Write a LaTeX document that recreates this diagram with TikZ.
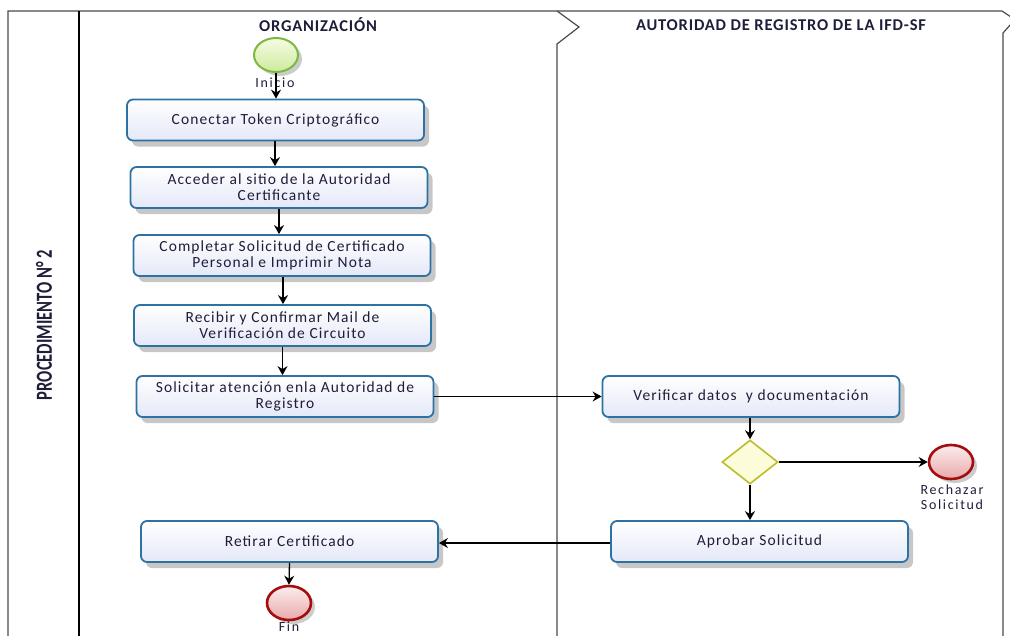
\documentclass[tikz,border=0pt]{standalone}
\usepackage{fontspec}
\usepackage{graphicx}
\setmainfont{Carlito}
\newfontfamily\wideface[LetterSpace=7]{Carlito}
\newfontfamily\labelface[LetterSpace=12]{Carlito}
\newfontfamily\headface[LetterSpace=5]{Carlito}
\usetikzlibrary{arrows.meta,shapes.geometric,shadows}

\definecolor{taskline}{HTML}{2E72A3}
\definecolor{taskbot}{HTML}{E4E8F8}
\definecolor{tasktxt}{HTML}{221C3A}
\definecolor{frameclr}{HTML}{4A4A4A}
\definecolor{startline}{HTML}{7DB83F}
\definecolor{starttop}{HTML}{F6FCE4}
\definecolor{startbot}{HTML}{CDEA9C}
\definecolor{endline}{HTML}{A30D0D}
\definecolor{endtop}{HTML}{FBEDED}
\definecolor{endbot}{HTML}{E9A9AB}
\definecolor{gateline}{HTML}{BDBD2A}
\definecolor{gatefill}{HTML}{FCFCDA}
\definecolor{headtxt}{HTML}{1E1E3A}

\tikzset{
  frame/.style={draw=frameclr, line width=1.2pt},
  task/.style={rectangle, rounded corners=6pt, draw=taskline, line width=1.8pt,
    top color=white, bottom color=taskbot, minimum width=297pt, minimum height=41pt,
    inner sep=1pt, align=center, text=tasktxt,
    font=\wideface\fontsize{15.5}{16}\selectfont,
    drop shadow={shadow xshift=5pt, shadow yshift=-6pt, opacity=0.22, fill=black}},
  event/.style={ellipse, minimum width=44pt, minimum height=34pt, inner sep=0pt,
    drop shadow={shadow xshift=4pt, shadow yshift=-4pt, opacity=0.2, fill=black}},
  startev/.style={event, draw=startline, line width=2pt, top color=starttop, bottom color=startbot},
  endev/.style={event, draw=endline, line width=2.6pt, top color=endtop, bottom color=endbot},
  gateway/.style={diamond, draw=gateline, line width=1.6pt, fill=gatefill,
    minimum width=56pt, minimum height=44pt, inner sep=0pt},
  evlabel/.style={align=center, text=tasktxt, inner sep=0pt,
    font=\labelface\fontsize{14}{15}\selectfont},
  lanehead/.style={text=headtxt, font=\headface\bfseries\fontsize{16.5}{18}\selectfont},
  flow/.style={draw=black, line width=1.3pt, -{Stealth[length=9pt,width=10pt,inset=3pt]}}
}

\begin{document}
\begin{tikzpicture}[x=1pt, y=-1pt]
\useasboundingbox (0,0) rectangle (1010,635);

% pool frame and lanes
\draw[frame] (8,640) -- (8,11) -- (1002,11) -- (1011,17);
\draw[frame] (1011,24) -- (1003,33) -- (1003,640);
\draw[frame] (557,11) -- (579,27) -- (557,44) -- (557,640);
\draw[draw=black, line width=1.4pt] (79,11) -- (79,640);

% pool and lane titles
\node[rotate=90, text=headtxt, font=\bfseries\fontsize{23}{25}\selectfont] (pool) at (44,325)
  {\scalebox{0.72}[1]{PROCEDIMIENTO N° 2}};
\node[lanehead] (lane1) at (318,25) {ORGANIZACIÓN};
\node[lanehead] (lane2) at (781,25) {AUTORIDAD DE REGISTRO DE LA IFD-SF};

% events
\node[startev] (start) at (276,55) {};
\node[evlabel] (lstart) at (275,83) {Inicio};
\node[endev] (rej) at (951,462) {};
\node[evlabel] (lrej) at (952,497) {Rechazar\\Solicitud};
\node[endev] (fin) at (289,603) {};
\node[evlabel] (lfin) at (289,627) {Fin};

% tasks
\node[task] (t1) at (275.5,120) {Conectar Token Criptográfico};
\node[task] (t2) at (279,187.5) {Acceder al sitio de la Autoridad\\Certificante};
\node[task] (t3) at (282,255.5) {Completar Solicitud de Certificado\\Personal e Imprimir Nota};
\node[task] (t4) at (282.5,325.5) {Recibir y Confirmar Mail de\\Verificación de Circuito};
\node[task] (t5) at (285,396.5) {Solicitar atención enla Autoridad de\\Registro};
\node[task] (t6) at (751,396.5) {Verificar datos\ \ y documentación};
\node[gateway] (gw) at (750,462) {};
\node[task] (t7) at (759.5,541.5) {Aprobar Solicitud};
\node[task] (t8) at (289.5,541.5) {Retirar Certificado};

% sequence flows
\draw[flow] (start.south) -- (start.south |- t1.north);
\draw[flow] ([xshift=-0.5pt]t1.south) -- ([xshift=-0.5pt]t1.south |- t2.north);
\draw[flow] (t2.south) -- (t2.south |- t3.north);
\draw[flow] ([xshift=1pt]t3.south) -- ([xshift=1pt]t3.south |- t4.north);
\draw[flow] (t4.south) -- (t4.south |- t5.north);
\draw[flow] (t5.east) -- (t6.west);
\draw[flow] ([xshift=-1pt]t6.south) -- (gw.north);
\draw[flow] (gw.east) -- (rej.west);
\draw[flow] (gw.south) -- (gw.south |- t7.north);
\draw[flow] ([yshift=-1.5pt]t7.west) -- ([yshift=-1.5pt]t8.east);
\draw[flow] (t8.south) -- (fin.north);
\end{tikzpicture}
\end{document}
